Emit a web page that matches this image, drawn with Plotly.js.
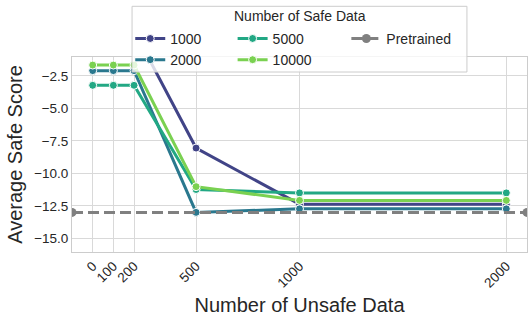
<!DOCTYPE html>
<html>
<head>
<meta charset="utf-8">
<script src="https://cdn.plot.ly/plotly-3.0.1.min.js"></script>
<style>
  html, body { margin: 0; padding: 0; background: #fff; }
  #chart { width: 532px; height: 320px; }
</style>
</head>
<body>
<div id="chart"></div>
<script>
// x positions (number of unsafe examples)
const unsafeCounts = [0, 100, 200, 500, 1000, 2000];

// average safe score per "number of safe data" setting
const safe1000 = [1.0, 1.0, 1.0, -8.05, -12.37, -12.37];
const safe2000 = [-2.09, -2.09, -2.09, -13.0, -12.73, -12.73];
const safe5000 = [-3.22, -3.22, -3.22, -11.24, -11.5, -11.5];
const safe10000 = [-1.66, -1.66, -1.66, -11.02, -12.08, -12.08];

const pretrainedX = [-100, 2100];
const pretrainedY = [-13.0, -13.0];

const xTickVals = [0, 100, 200, 500, 1000, 2000];
const xTickText = ["0", "100", "200", "500", "1000", "2000"];
const yTickVals = [-2.5, -5.0, -7.5, -10.0, -12.5, -15.0];
const yTickText = ["\u22122.5", "\u22125.0", "\u22127.5", "\u221210.0", "\u221212.5", "\u221215.0"];

const palette = ["#414487", "#2a788e", "#22a884", "#7ad151"];
const FONT = "Liberation Sans, Arial, sans-serif";
const INK = "#262626";

function series(name, ys, color, legend) {
  return {
    x: unsafeCounts,
    y: ys,
    name: name,
    type: "scatter",
    mode: "lines+markers",
    line: { color: color, width: 3 },
    marker: { color: color, size: 8, line: { color: "#ffffff", width: 1 } },
    legend: legend,
  };
}

const traces = [
  series("1000", safe1000, palette[0], "legend"),
  series("2000", safe2000, palette[1], "legend"),
  series("5000", safe5000, palette[2], "legend2"),
  series("10000", safe10000, palette[3], "legend2"),
  {
    x: pretrainedX,
    y: pretrainedY,
    name: "Pretrained",
    type: "scatter",
    mode: "lines+markers",
    line: { color: "#808080", width: 3, dash: "11px,5px" },
    marker: { color: "#808080", size: 9 },
    legend: "legend3",
  },
];

const legendBase = {
  orientation: "v",
  xanchor: "left",
  yanchor: "top",
  y: 1.175,
  bgcolor: "rgba(0,0,0,0)",
  borderwidth: 0,
  font: { family: FONT, size: 14, color: INK },
  tracegroupgap: 0,
};

const layout = {
  width: 532,
  height: 320,
  margin: { l: 72, r: 5, t: 57, b: 68 },
  paper_bgcolor: "#ffffff",
  plot_bgcolor: "#ffffff",
  font: { family: FONT, color: INK },
  showlegend: true,
  xaxis: {
    range: [-100, 2100],
    tickvals: xTickVals,
    ticktext: xTickText,
    tickangle: -45,
    tickfont: { family: FONT, size: 13.5, color: INK },
    showgrid: true,
    gridcolor: "#d9d9d9",
    gridwidth: 1,
    zeroline: false,
    showline: true,
    mirror: true,
    linecolor: "#cccccc",
    linewidth: 1,
    ticks: "",
    title: { text: "Number of Unsafe Data", font: { family: FONT, size: 20, color: INK }, standoff: 8 },
  },
  yaxis: {
    range: [-16.05, -1.04],
    tickvals: yTickVals,
    ticktext: yTickText,
    tickfont: { family: FONT, size: 13.5, color: INK },
    showgrid: true,
    gridcolor: "#d9d9d9",
    gridwidth: 1,
    zeroline: false,
    showline: true,
    mirror: true,
    linecolor: "#cccccc",
    linewidth: 1,
    ticks: "",
    title: { text: "Average Safe Score", font: { family: FONT, size: 20, color: INK }, standoff: 6 },
  },
  legend: Object.assign({}, legendBase, { x: 0.128 }),
  legend2: Object.assign({}, legendBase, { x: 0.353 }),
  legend3: Object.assign({}, legendBase, { x: 0.603 }),
  shapes: [
    {
      type: "rect",
      xref: "paper",
      yref: "paper",
      x0: 0.132,
      x1: 0.868,
      y0: 0.923,
      y1: 1.26,
      layer: "above",
      fillcolor: "rgba(255,255,255,0.8)",
      line: { color: "#cccccc", width: 1 },
    },
  ],
  annotations: [
    {
      text: "Number of Safe Data",
      xref: "paper",
      yref: "paper",
      x: 0.501,
      y: 1.21,
      showarrow: false,
      xanchor: "center",
      yanchor: "middle",
      font: { family: FONT, size: 14, color: INK },
    },
  ],
};

Plotly.newPlot("chart", traces, layout, { displayModeBar: false, staticPlot: true });
</script>
</body>
</html>
